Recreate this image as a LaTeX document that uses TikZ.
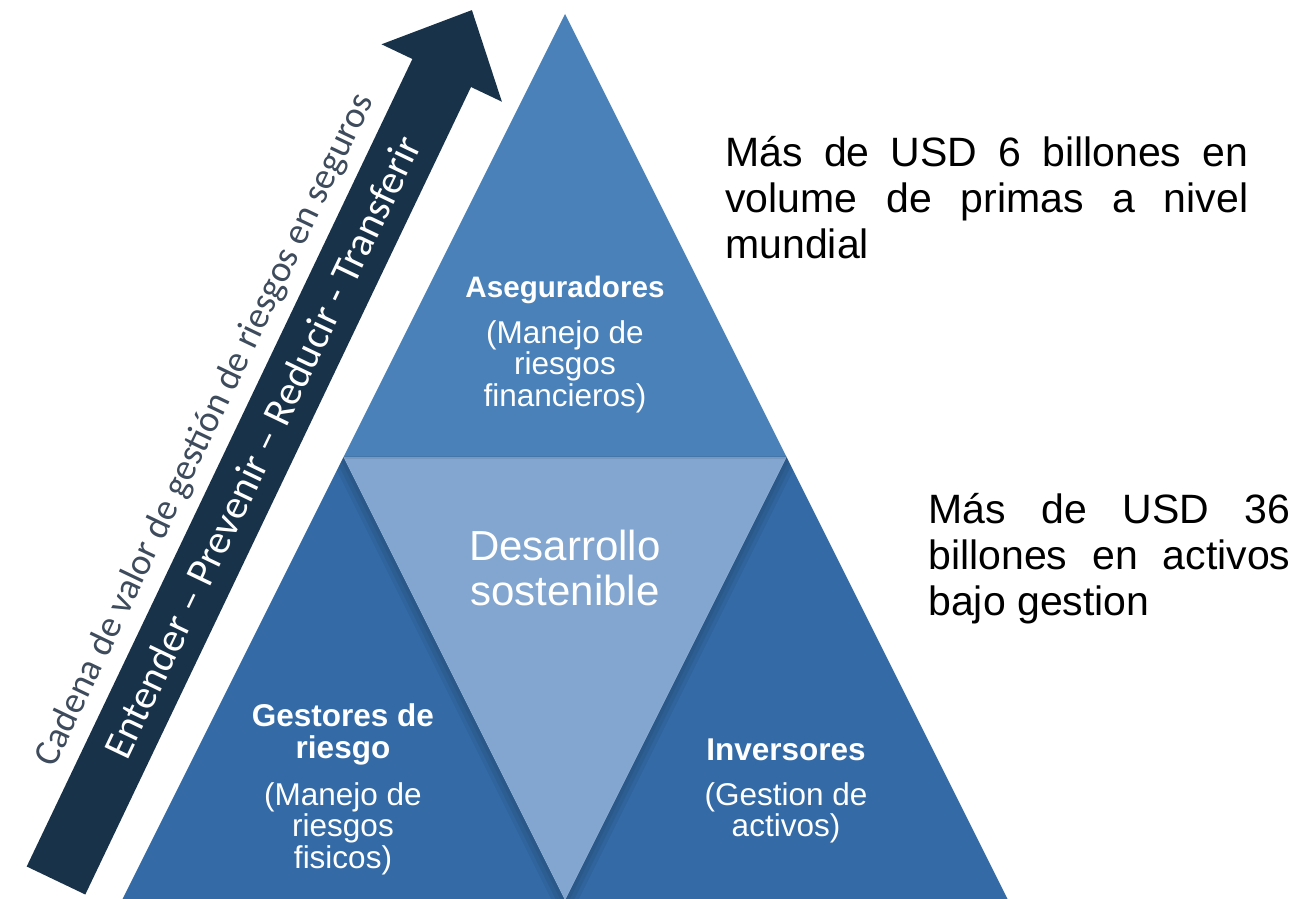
\documentclass[tikz,border=0pt]{standalone}
\usepackage{fontspec}
\setmainfont{Liberation Sans}
\newfontfamily\carlito{Carlito}
\definecolor{topblue}{HTML}{4A81B9}
\definecolor{sideblue}{HTML}{346BA6}
\definecolor{midblue}{HTML}{82A6D0}
\definecolor{navy}{HTML}{18324A}
\definecolor{slate}{HTML}{3D4B5C}
\begin{document}
\begin{tikzpicture}[x=0.5pt,y=-0.5pt,
  boldlbl/.style={text=white,align=center,font=\bfseries\fontsize{15.75}{16}\selectfont,inner sep=0pt},
  sublbl/.style={text=white,align=center,font=\fontsize{15.75}{15.75}\selectfont,inner sep=0pt},
  centrelbl/.style={text=white,align=center,font=\fontsize{21}{22.5}\selectfont,inner sep=0pt},
  sidetxt/.style={anchor=base west,text=black,font=\fontsize{20.5}{23}\selectfont,inner sep=0pt},
  arrowtxt/.style={rotate=64.46,text=white,font=\carlito\fontsize{20.5}{22}\selectfont,inner sep=0pt},
  chaintxt/.style={rotate=64.46,text=slate,font=\carlito\fontsize{18.6}{21}\selectfont,inner sep=0pt},
  edgeshadow/.style={draw=black,opacity=0.06,line width=#1}]
\useasboundingbox (0,0) rectangle (1314,899);
% pyramid corners
\coordinate (apex) at (565,14);
\coordinate (ml) at (343.5,457);
\coordinate (mr) at (786.5,457);
\coordinate (bl) at (122,900);
\coordinate (bm) at (565,900);
\coordinate (br) at (1008,900);
\fill[topblue] (apex) -- (ml) -- (mr) -- cycle;
\fill[sideblue] (ml) -- (bl) -- (bm) -- cycle;
\fill[sideblue] (mr) -- (bm) -- (br) -- cycle;
% soft shadow of the middle triangle on the side triangles
\begin{scope}
  \clip (ml) -- (bl) -- (bm) -- cycle (mr) -- (bm) -- (br) -- cycle;
  \foreach \w in {4,8,12}{
    \draw[edgeshadow=\w] (ml) -- (bm) -- (mr);
  }
\end{scope}
\fill[midblue] (ml) -- (mr) -- (bm) -- cycle;
\draw[black,opacity=0.08,line width=1.5] (ml) -- (mr);
% arrow
\fill[navy] (26.7,866.5) -- (412.4,59) -- (381.5,44.3) -- (471.9,10.1)
  -- (501.9,101.7) -- (471,87) -- (85.3,894.5) -- cycle;
% texts in the pyramid
\node[boldlbl,font=\bfseries\fontsize{14.8}{16}\selectfont] (aseg) at (565,290) {Aseguradores};
\node[sublbl] (asegsub) at (565,366.5) {(Manejo de\\riesgos\\financieros)};
\node[centrelbl] (desa) at (565,567.5) {Desarrollo\\sostenible};
\node[boldlbl] (gest) at (343,734) {Gestores de\\riesgo};
\node[sublbl] (gestsub) at (343,828.5) {(Manejo de\\riesgos\\fisicos)};
\node[boldlbl] (inve) at (786,750) {Inversores};
\node[sublbl] (invesub) at (786,813) {(Gestion de\\activos)};
% arrow texts
\node[arrowtxt] (chain) at (262,447) {Entender – Prevenir – Reducir - Transferir};
\node[chaintxt] (cadena) at (205.5,430) {Cadena de valor de gestión de riesgos en seguros};
% right texts
\node[sidetxt] (p1) at (725,167) {\makebox[261.5pt][s]{Más de USD 6 billones en}};
\node[sidetxt] (p2) at (725,213) {\makebox[261.5pt][s]{volume de primas a nivel}};
\node[sidetxt] (p3) at (725,259) {mundial};
\node[sidetxt] (q1) at (928,523) {\makebox[181pt][s]{Más de USD 36}};
\node[sidetxt] (q2) at (928,569) {\makebox[181pt][s]{billones en activos}};
\node[sidetxt] (q3) at (928,615) {bajo gestion};
\end{tikzpicture}
\end{document}
